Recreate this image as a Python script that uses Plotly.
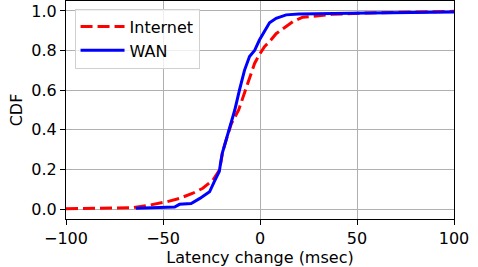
import plotly.graph_objects as go

# Data
internet_x = [-100, -82.7, -65.6, -57, -48, -41.5, -34.6, -29.5, -24.3, -20.9, -19.2,
              -17.4, -14.8, -11, -7.5, -5.4, -2.8, -0.3, 2.3, 4.9, 8.3, 11.8, 16.9,
              22, 28.9, 37.5, 56, 100]
internet_y = [0.002, 0.003, 0.007, 0.02, 0.037, 0.054, 0.08, 0.105, 0.146, 0.197, 0.29,
              0.35, 0.43, 0.5, 0.6, 0.65, 0.735, 0.78, 0.82, 0.845, 0.885, 0.91, 0.946,
              0.968, 0.976, 0.983, 0.99, 0.998]

wan_x = [-64, -44, -41.5, -35.5, -31, -26, -23.5, -21, -19.5, -17.4, -14.8, -13, -10.6,
         -8, -5.4, -2.8, -0.3, 2.3, 4.9, 8.3, 13.5, 20, 37, 56, 100]
wan_y = [0.004, 0.01, 0.024, 0.028, 0.054, 0.087, 0.14, 0.19, 0.28, 0.35, 0.45, 0.5, 0.6,
         0.70, 0.77, 0.80, 0.853, 0.90, 0.94, 0.963, 0.98, 0.985, 0.988, 0.99, 0.995]

x_ticks = [-100, -50, 0, 50, 100]
y_ticks = [0.0, 0.2, 0.4, 0.6, 0.8, 1.0]

FONT = "DejaVu Sans"

fig = go.Figure()
fig.add_trace(go.Scatter(x=internet_x, y=internet_y, mode="lines", name="Internet",
                         line=dict(color="#ff0000", width=3, dash="12px,5px")))
fig.add_trace(go.Scatter(x=wan_x, y=wan_y, mode="lines", name="WAN",
                         line=dict(color="#0000ff", width=3)))

axis_common = dict(
    showgrid=True, gridcolor="#b0b0b0", gridwidth=1,
    zeroline=False, showline=True, linecolor="black", linewidth=1, mirror=True,
    ticks="outside", ticklen=5, tickwidth=1, tickcolor="black",
    tickfont=dict(family=FONT, size=16, color="black"),
)

fig.update_layout(
    width=478, height=267,
    margin=dict(l=66, r=24, t=1, b=48),
    paper_bgcolor="white", plot_bgcolor="white",
    font=dict(family=FONT, size=16, color="black"),
    showlegend=True,
    legend=dict(x=0.022, y=0.965, xanchor="left", yanchor="top",
                bgcolor="rgba(255,255,255,0.8)", bordercolor="#d0d0d0", borderwidth=1,
                font=dict(family=FONT, size=16, color="black"),
                itemwidth=44, tracegroupgap=0),
    xaxis=dict(range=[-100, 100], tickvals=x_ticks,
               title=dict(text="Latency change (msec)", font=dict(family=FONT, size=16),
                          standoff=3),
               **axis_common),
    yaxis=dict(range=[-0.05, 1.05], tickvals=y_ticks, tickformat=".1f",
               title=dict(text="CDF", font=dict(family=FONT, size=16), standoff=4),
               **axis_common),
)

fig.write_html("out.html", config={"displayModeBar": False},
               post_script="document.body.style.margin='0';")
